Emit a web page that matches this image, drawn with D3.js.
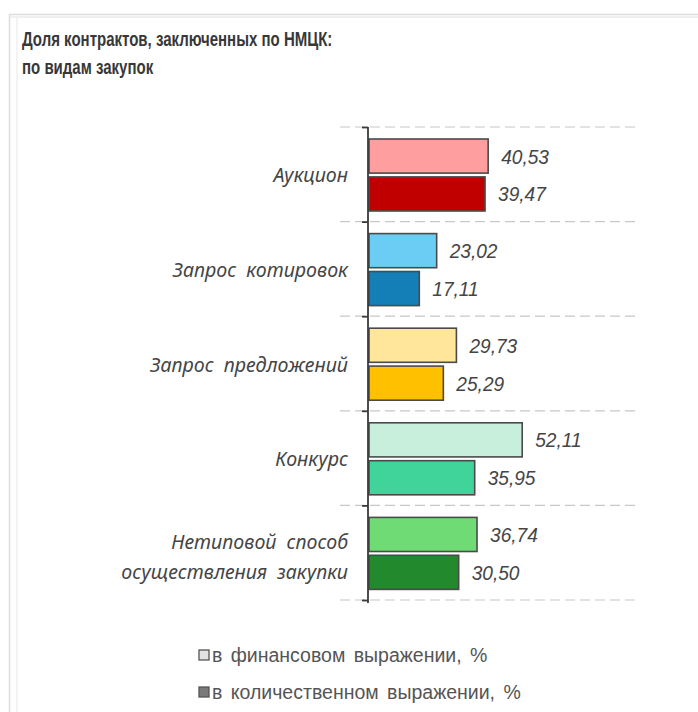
<!DOCTYPE html>
<html><head><meta charset="utf-8">
<script src="https://cdn.jsdelivr.net/npm/d3@7"></script>
<style>
html,body{margin:0;padding:0;background:#fff;}
svg{display:block;}
</style></head>
<body>
<script>
const categories = ["Аукцион", "Запрос котировок", "Запрос предложений", "Конкурс", "Нетиповой способ осуществления закупки"];
const categoryLines = [["Аукцион"], ["Запрос котировок"], ["Запрос предложений"], ["Конкурс"], ["Нетиповой способ", "осуществления закупки"]];
const finValues = [40.53, 23.02, 29.73, 52.11, 36.74];
const qtyValues = [39.47, 17.11, 25.29, 35.95, 30.50];
const finColors = ["#FF9E9E", "#6CCDF4", "#FFE69A", "#C7EFDB", "#6EDB74"];
const qtyColors = ["#C00000", "#147EB6", "#FFC000", "#40D49B", "#228A2C"];
const seriesNames = ["в финансовом выражении, %", "в количественном выражении, %"];
const legendColors = ["#E2E2E2", "#7A7A7A"];
const titleLines = ["Доля контрактов, заключенных по НМЦК:", "по видам закупок"];

const W = 698, H = 712;
const svg = d3.select("body").append("svg").attr("width", W).attr("height", H);

// frame
svg.append("rect").attr("x", 9.5).attr("y", 14.5).attr("width", W).attr("height", H)
  .attr("fill", "#fff").attr("stroke", "#dcdcdc").attr("stroke-width", 1.5);
svg.append("line").attr("x1", 17).attr("x2", 17).attr("y1", 16).attr("y2", H)
  .attr("stroke", "#f3f3f3").attr("stroke-width", 2);
svg.append("line").attr("x1", 10).attr("x2", W).attr("y1", 17).attr("y2", 17)
  .attr("stroke", "#f0f0f0").attr("stroke-width", 2);

// title
svg.append("g").selectAll("text").data(titleLines).join("text")
  .attr("transform", (d, i) => `translate(22,${46 + i * 28}) scale(0.77,1)`)
  .attr("font-family", "Liberation Sans, Arial, sans-serif")
  .attr("font-weight", "bold").attr("font-size", 19.5)
  .attr("fill", "#383838")
  .text(d => d);

const x = d3.scaleLinear().domain([0, 90]).range([369, 633.6]);
const y = d3.scaleBand().domain(categories).range([127, 600]).paddingInner(0).paddingOuter(0);
const inner = d3.scaleBand().domain([0, 1]).range([12, 84]).paddingInner(0.1);

// gridlines
const bounds = categories.map(c => y(c)).concat([y.range()[1]]);
svg.append("g").selectAll("line").data(bounds).join("line")
  .attr("x1", 340).attr("x2", 636).attr("y1", d => d).attr("y2", d => d)
  .attr("stroke", "#c8c8c8").attr("stroke-width", 1.2).attr("stroke-dasharray", "10,5");

// bars
const rows = categories.map((c, i) => ({c, i, vals: [finValues[i], qtyValues[i]], cols: [finColors[i], qtyColors[i]]}));
const g = svg.append("g");
rows.forEach(r => {
  r.vals.forEach((v, s) => {
    g.append("rect")
      .attr("x", x(0)).attr("y", y(r.c) + inner(s))
      .attr("width", x(v) - x(0)).attr("height", inner.bandwidth())
      .attr("fill", r.cols[s]).attr("stroke", "#4a4a4a").attr("stroke-width", 1.6);
    g.append("text")
      .attr("transform", `translate(${x(v) + 13},${y(r.c) + inner(s) + inner.bandwidth() / 2 + 7.5}) scale(0.91,1)`)
      .attr("font-family", "Liberation Sans, Arial, sans-serif")
      .attr("font-style", "italic").attr("font-size", 21)
      .attr("fill", "#454545")
      .text(d3.format(".2f")(v).replace(".", ","));
  });
});

// axis
const axis = d3.axisLeft(d3.scaleLinear().domain([0, 1]).range([127, 600]))
  .tickValues(bounds.map(b => (b - 127) / 473)).tickSize(6).tickFormat("");
const ag = svg.append("g").attr("transform", `translate(${x(0) - 1},0)`).call(axis);
ag.select(".domain").attr("stroke", "#3a3a3a").attr("stroke-width", 1.8).attr("d", "M0,127V603");
ag.selectAll(".tick line").attr("stroke", "#3a3a3a").attr("stroke-width", 1.8);

// category labels
rows.forEach(r => {
  const lines = categoryLines[r.i];
  const cy = y(r.c) + y.bandwidth() / 2;
  const lh = 30;
  lines.forEach((t, k) => {
    const ty = cy + (k - (lines.length - 1) / 2) * lh + 8 + (lines.length > 1 ? 3 : 0);
    svg.append("text")
      .attr("transform", `translate(348,${ty}) scale(0.98,1)`)
      .attr("text-anchor", "end")
      .attr("font-family", "Noto Sans, sans-serif")
      .attr("font-style", "italic").attr("font-size", 20)
      .attr("word-spacing", 5)
      .attr("fill", "#454545")
      .text(t);
  });
});

// legend
const lg = svg.append("g");
seriesNames.forEach((n, i) => {
  const ly = 655 + i * 37;
  lg.append("rect").attr("x", 199).attr("y", ly - 5).attr("width", 10).attr("height", 10)
    .attr("fill", legendColors[i]).attr("stroke", "#555").attr("stroke-width", 1.3);
  lg.append("text").attr("x", 212).attr("y", ly + 7)
    .attr("font-family", "Liberation Sans, Arial, sans-serif")
    .attr("font-size", 19.5).attr("word-spacing", 3).attr("fill", "#555")
    .text(n);
});
</script>
</body></html>
